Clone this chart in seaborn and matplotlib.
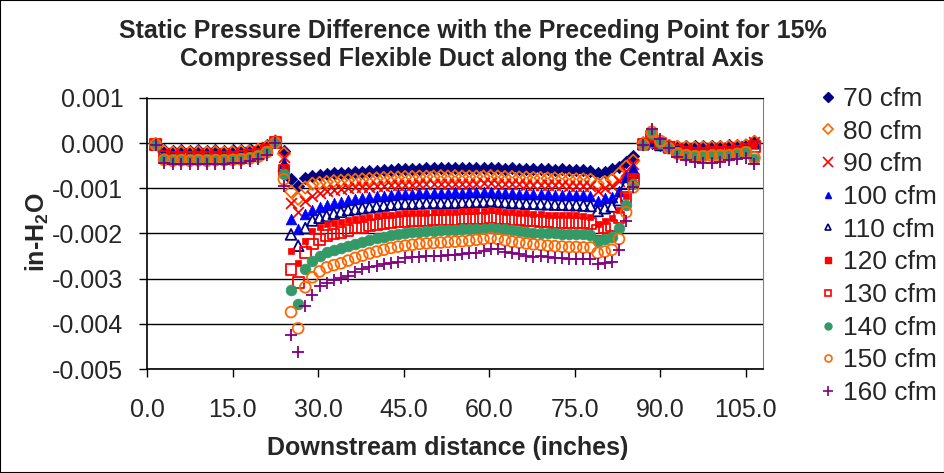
import matplotlib
matplotlib.use("Agg")
import matplotlib.pyplot as plt
from matplotlib.lines import Line2D
from matplotlib.patches import Rectangle
from matplotlib.ticker import FuncFormatter
import pandas as pd
import seaborn as sns

# measurement positions (inches downstream)
x_left = [1.5, 3.0, 4.5, 6.0, 7.5, 9.0, 10.5, 12.0, 13.5, 15.0, 16.5, 18.0, 19.5, 21.0, 22.5]
x_mid = [24.0, 25.25, 26.5, 27.75, 29.0, 30.25, 31.5, 32.75, 34.0, 35.25,
         36.5, 37.75, 39.0, 40.25, 41.5, 42.75, 44.0, 45.25, 46.5, 47.75,
         49.0, 50.25, 51.5, 52.75, 54.0, 55.25, 56.5, 57.75, 59.0, 60.25,
         61.5, 62.75, 64.0, 65.25, 66.5, 67.75, 69.0, 70.25, 71.5, 72.75,
         74.0, 75.25, 76.5, 77.75, 79.0, 80.25, 81.5, 82.75, 84.0, 85.25]
x_right = [87.0, 88.5, 90.0, 91.5, 93.0, 94.5, 96.0, 97.5, 99.0, 100.5, 102.0, 103.5, 105.0, 106.5]

flows = ["70 cfm", "80 cfm", "90 cfm", "100 cfm", "110 cfm",
         "120 cfm", "130 cfm", "140 cfm", "150 cfm", "160 cfm"]

# static pressure difference (in-H2O)
dp_70 = [-0.00002, -0.00015, -0.00017, -0.00016, -0.00017, -0.00016, -0.00017, -0.00016, -0.00017, -0.00016, -0.00015, -0.00014, -0.00012, -0.00005, 0.00004,
         -0.00017, -0.0008, -0.00094, -0.00077, -0.00073, -0.0007, -0.00068, -0.00067, -0.00066, -0.00065,
         -0.00064, -0.00063, -0.00062, -0.00061, -0.0006, -0.00059, -0.00058, -0.00058, -0.00057, -0.00057,
         -0.00056, -0.00056, -0.00056, -0.00055, -0.00056, -0.00055, -0.00055, -0.00056, -0.00055, -0.00055,
         -0.00056, -0.00057, -0.00056, -0.00057, -0.00058, -0.00057, -0.00058, -0.00058, -0.00059, -0.00058,
         -0.00059, -0.00059, -0.0006, -0.00061, -0.00065, -0.00063, -0.00058, -0.00053, -0.00042, -0.00028,
         0.0, 0.0, -0.00004, -0.00005, -0.00006, -0.00007, -0.00007, -0.00007, -0.00006, -0.00006, -0.00005, -0.00004, -0.00003, 0.00005]
dp_80 = [-0.00002, -0.00019, -0.00021, -0.0002, -0.00021, -0.0002, -0.00021, -0.0002, -0.00021, -0.0002, -0.00019, -0.00018, -0.00015, -0.00008, 0.00004,
         -0.00023, -0.00107, -0.00123, -0.00098, -0.0009, -0.00088, -0.00086, -0.00084, -0.00083, -0.00082,
         -0.00081, -0.0008, -0.00079, -0.00078, -0.00077, -0.00076, -0.00076, -0.00075, -0.00075, -0.00074,
         -0.00074, -0.00074, -0.00073, -0.00074, -0.00073, -0.00074, -0.00074, -0.00074, -0.00074, -0.00073,
         -0.00074, -0.00075, -0.00075, -0.00076, -0.00076, -0.00077, -0.00077, -0.00078, -0.00078, -0.00079,
         -0.00079, -0.0008, -0.0008, -0.00081, -0.0009, -0.00086, -0.00081, -0.00068, -0.00052, -0.00039,
         0.0, 0.00003, -0.00003, -0.00006, -0.00008, -0.00009, -0.0001, -0.0001, -0.00009, -0.00009, -0.00008, -0.00007, -0.00005, 0.00003]
dp_90 = [-0.00002, -0.00021, -0.00023, -0.00022, -0.00023, -0.00022, -0.00023, -0.00022, -0.00023, -0.00022, -0.00021, -0.0002, -0.00017, -0.00009, 0.00003,
         -0.0003, -0.00132, -0.00153, -0.00127, -0.00116, -0.00111, -0.00106, -0.00103, -0.00101, -0.00099,
         -0.00098, -0.00097, -0.00096, -0.00095, -0.00094, -0.00093, -0.00093, -0.00092, -0.00092, -0.00091,
         -0.00091, -0.0009, -0.0009, -0.0009, -0.0009, -0.0009, -0.0009, -0.0009, -0.00089, -0.00089,
         -0.0009, -0.0009, -0.00091, -0.00091, -0.00092, -0.00092, -0.00092, -0.00093, -0.00093, -0.00093,
         -0.00094, -0.00094, -0.00094, -0.00095, -0.00105, -0.001, -0.00095, -0.00083, -0.00061, -0.00046,
         -0.00001, 0.00005, -0.00003, -0.00007, -0.0001, -0.00011, -0.00012, -0.00012, -0.00011, -0.00011, -0.0001, -0.00009, -0.00007, 0.00002]
dp_100 = [-0.00002, -0.00023, -0.00025, -0.00024, -0.00025, -0.00024, -0.00025, -0.00024, -0.00025, -0.00024, -0.00023, -0.00022, -0.00019, -0.00011, 0.00003,
          -0.00043, -0.00169, -0.00189, -0.00156, -0.00149, -0.00142, -0.00136, -0.00133, -0.0013, -0.00126,
          -0.00123, -0.00121, -0.0012, -0.00118, -0.00116, -0.00114, -0.00113, -0.00112, -0.00112, -0.00111,
          -0.00111, -0.0011, -0.0011, -0.0011, -0.00109, -0.0011, -0.00109, -0.00109, -0.00109, -0.00108,
          -0.0011, -0.00111, -0.00111, -0.00112, -0.00112, -0.00113, -0.00113, -0.00113, -0.00114, -0.00114,
          -0.00114, -0.00115, -0.00115, -0.00116, -0.00127, -0.00122, -0.00119, -0.00105, -0.00076, -0.00054,
          -0.00001, 0.00004, -0.00004, -0.00008, -0.00012, -0.00013, -0.00014, -0.00014, -0.00013, -0.00013, -0.00012, -0.0001, -0.00008, 0.00001]
dp_110 = [-0.00002, -0.00025, -0.00027, -0.00026, -0.00027, -0.00026, -0.00027, -0.00026, -0.00027, -0.00026, -0.00025, -0.00024, -0.0002, -0.00012, 0.00003,
          -0.0005, -0.00202, -0.00227, -0.00188, -0.00171, -0.00165, -0.00161, -0.00156, -0.00152, -0.00148,
          -0.00146, -0.00144, -0.00142, -0.0014, -0.00138, -0.00136, -0.00135, -0.00134, -0.00134, -0.00133,
          -0.00133, -0.00132, -0.00133, -0.00132, -0.00132, -0.00131, -0.00131, -0.0013, -0.0013, -0.00128,
          -0.0013, -0.00131, -0.00132, -0.00133, -0.00134, -0.00134, -0.00135, -0.00135, -0.00136, -0.00136,
          -0.00137, -0.00137, -0.00138, -0.00139, -0.0015, -0.00144, -0.0014, -0.00126, -0.0009, -0.00065,
          -0.00002, 0.00008, -0.00003, -0.00008, -0.00013, -0.00015, -0.00016, -0.00016, -0.00015, -0.00015, -0.00014, -0.00012, -0.0001, 0.0]
dp_120 = [-0.00003, -0.00028, -0.0003, -0.00029, -0.0003, -0.00029, -0.0003, -0.00029, -0.0003, -0.00029, -0.00028, -0.00026, -0.00022, -0.00013, 0.00002,
          -0.00057, -0.00238, -0.00265, -0.00216, -0.00195, -0.00185, -0.0018, -0.00177, -0.00174, -0.0017,
          -0.00167, -0.00165, -0.00163, -0.00161, -0.00159, -0.00158, -0.00157, -0.00155, -0.00155, -0.00154,
          -0.00154, -0.00153, -0.00153, -0.00152, -0.00152, -0.00151, -0.00151, -0.00151, -0.0015, -0.00148,
          -0.0015, -0.00152, -0.00153, -0.00154, -0.00155, -0.00156, -0.00157, -0.00158, -0.00158, -0.00159,
          -0.0016, -0.0016, -0.00161, -0.00163, -0.0018, -0.00172, -0.00165, -0.00148, -0.00116, -0.00076,
          -0.00002, 0.00012, -0.00002, -0.00009, -0.00015, -0.00018, -0.00019, -0.00019, -0.00018, -0.00018, -0.00017, -0.00015, -0.00012, -0.00005]
dp_130 = [-0.00003, -0.0003, -0.00032, -0.00031, -0.00032, -0.00031, -0.00032, -0.00031, -0.00032, -0.00031, -0.0003, -0.00028, -0.00024, -0.00015, 0.00002,
          -0.0006, -0.0028, -0.00308, -0.00242, -0.00223, -0.00214, -0.00205, -0.00201, -0.00197, -0.00194,
          -0.00188, -0.00186, -0.00183, -0.0018, -0.00178, -0.00176, -0.00174, -0.00173, -0.00172, -0.00171,
          -0.00171, -0.0017, -0.0017, -0.00169, -0.00169, -0.00168, -0.00168, -0.00167, -0.00166, -0.00165,
          -0.00166, -0.00168, -0.00169, -0.0017, -0.00171, -0.00172, -0.00173, -0.00174, -0.00175, -0.00176,
          -0.00176, -0.00177, -0.00177, -0.00178, -0.00194, -0.00188, -0.00182, -0.00165, -0.0012, -0.00081,
          -0.00002, 0.00015, -0.00001, -0.0001, -0.00017, -0.0002, -0.00022, -0.00022, -0.00021, -0.00021, -0.0002, -0.00018, -0.00014, -0.00008]
dp_140 = [-0.00003, -0.00034, -0.00036, -0.00035, -0.00036, -0.00035, -0.00036, -0.00035, -0.00035, -0.00034, -0.00033, -0.00031, -0.00027, -0.00017, 0.00002,
          -0.00068, -0.00325, -0.00356, -0.00279, -0.0026, -0.00249, -0.00241, -0.00236, -0.00232, -0.00228,
          -0.00223, -0.00218, -0.00214, -0.0021, -0.00207, -0.00204, -0.00201, -0.00199, -0.00197, -0.00196,
          -0.00195, -0.00194, -0.00193, -0.00192, -0.00192, -0.00191, -0.0019, -0.0019, -0.00189, -0.00187,
          -0.00189, -0.00191, -0.00193, -0.00195, -0.00197, -0.00198, -0.00199, -0.002, -0.002, -0.00201,
          -0.00201, -0.00202, -0.00202, -0.00203, -0.00217, -0.00213, -0.00208, -0.00188, -0.00136, -0.0009,
          -0.00003, 0.0002, 0.0, -0.0001, -0.0002, -0.00024, -0.00026, -0.00026, -0.00025, -0.00025, -0.00024, -0.00021, -0.00017, -0.00034]
dp_150 = [-0.00003, -0.00037, -0.00039, -0.00038, -0.00039, -0.00038, -0.00039, -0.00038, -0.00038, -0.00037, -0.00036, -0.00034, -0.0003, -0.0002, 0.00001,
          -0.0008, -0.00374, -0.0041, -0.00319, -0.00297, -0.00284, -0.00275, -0.0027, -0.00266, -0.0026,
          -0.00254, -0.00249, -0.00244, -0.0024, -0.00236, -0.00232, -0.00229, -0.00227, -0.00225, -0.00223,
          -0.00222, -0.00221, -0.0022, -0.00219, -0.00218, -0.00217, -0.00216, -0.00214, -0.00212, -0.0021,
          -0.00212, -0.00215, -0.00218, -0.0022, -0.00222, -0.00224, -0.00225, -0.00227, -0.00228, -0.00229,
          -0.0023, -0.0023, -0.00231, -0.00231, -0.00243, -0.0024, -0.00236, -0.00212, -0.00153, -0.00098,
          -0.00003, 0.00025, 0.00005, -0.00011, -0.00023, -0.00027, -0.00029, -0.00029, -0.00028, -0.00028, -0.00027, -0.00024, -0.0002, -0.00032]
dp_160 = [-0.00004, -0.00045, -0.00047, -0.00046, -0.00047, -0.00046, -0.00047, -0.00046, -0.00046, -0.00045, -0.00043, -0.0004, -0.00036, -0.00026, 0.0,
          -0.00094, -0.00424, -0.00462, -0.0036, -0.00336, -0.00317, -0.00309, -0.00303, -0.00299, -0.00294,
          -0.00286, -0.00279, -0.00275, -0.00271, -0.00268, -0.00266, -0.00263, -0.00254, -0.00252, -0.00252,
          -0.0025, -0.0025, -0.00249, -0.00248, -0.00247, -0.00245, -0.00244, -0.00243, -0.00238, -0.00234,
          -0.00235, -0.00241, -0.00243, -0.00246, -0.00249, -0.00251, -0.0025, -0.00253, -0.00254, -0.00255,
          -0.00256, -0.00256, -0.00256, -0.00256, -0.00267, -0.00265, -0.00262, -0.00236, -0.00173, -0.00096,
          -0.00004, 0.00032, 0.0001, -0.0001, -0.0003, -0.00038, -0.00042, -0.00043, -0.00043, -0.00042, -0.00038, -0.00035, -0.00033, -0.00046]

# marker styles, Excel-like
colors = ["#000080", "#FF6600", "#FF0000", "#0000FF", "#000080",
          "#FF0000", "#FF0000", "#339966", "#FF6600", "#800080"]
markers = ["D", "D", "x", "^", "^", "s", "s", "o", "o", "+"]
filled = [True, False, None, True, False, True, False, True, False, None]
sizes = [40, 40, 60, 60, 60, 22, 60, 60, 60, 80]

distance = x_left + x_mid + x_right
series = [dp_70, dp_80, dp_90, dp_100, dp_110, dp_120, dp_130, dp_140, dp_150, dp_160]
df = pd.concat([pd.DataFrame({"distance": distance, "dp": vals, "flow": name})
                for name, vals in zip(flows, series)], ignore_index=True)

sns.set_style("white")
plt.rcParams["font.family"] = ["Liberation Sans", "DejaVu Sans"]
plt.rcParams["mathtext.fontset"] = "custom"
plt.rcParams["mathtext.rm"] = "Liberation Sans"
plt.rcParams["mathtext.bf"] = "Liberation Sans:bold"

fig = plt.figure(figsize=(9.45, 4.73), dpi=100)
ax = fig.add_axes([147 / 945, 1 - 369 / 473, (763 - 147) / 945, (369 - 98) / 473])

for i, name in enumerate(flows):
    sub = df[df["flow"] == name]
    kw = dict(marker=markers[i], s=sizes[i], legend=False, ax=ax, zorder=3 + i)
    if filled[i] is None:
        kw.update(color=colors[i], linewidth=1.3)
    elif filled[i]:
        kw.update(color=colors[i], edgecolor=colors[i], linewidth=0.5)
    else:
        kw.update(color=colors[i], facecolor="none", edgecolor=colors[i], linewidth=1.3)
    sns.scatterplot(data=sub, x="distance", y="dp", **kw)

ax.set_xlim(0, 108)
ax.set_ylim(-0.005, 0.001)
ax.set_xticks([0, 15, 30, 45, 60, 75, 90, 105])
ax.set_yticks([0.001, 0.0, -0.001, -0.002, -0.003, -0.004, -0.005])
ax.xaxis.set_major_formatter(FuncFormatter(lambda v, p: f"{v:.1f}"))
ax.yaxis.set_major_formatter(FuncFormatter(lambda v, p: f"{v:.3f}".replace("-0.000", "0.000")))
ax.yaxis.grid(True, color="black", linewidth=1)
ax.set_axisbelow(True)
ax.tick_params(axis="both", direction="out", length=6, width=1, color="black",
               labelsize=18, left=True, bottom=True)
ax.tick_params(axis="x", pad=15)
ax.tick_params(axis="y", pad=11)
for side in ["left", "bottom"]:
    ax.spines[side].set_color("black")
    ax.spines[side].set_linewidth(1.2)
ax.spines["top"].set_color("black")
ax.spines["right"].set_color("#808080")

ax.set_xlabel("Downstream distance (inches)", fontsize=18, fontweight="bold", va="center")
ax.xaxis.set_label_coords((448 - 147) / 616, -(448 - 369) / 271)
ax.set_ylabel(r"in-H$_\mathbf{2}$O", fontsize=18, fontweight="bold", va="center")
ax.yaxis.set_label_coords((37 - 147) / 616, (369 - 232) / 271)
fig.text(0.5, 0.96, "Static Pressure Difference with the Preceding Point for 15%\n"
         "Compressed Flexible Duct along the Central Axis",
         ha="center", va="top", fontsize=18, fontweight="bold", linespacing=1.2)

handles = []
for i, name in enumerate(flows):
    if filled[i] is None:
        h = Line2D([], [], linestyle="", marker=markers[i], color=colors[i], markersize=7, markeredgewidth=1.2)
    elif filled[i]:
        h = Line2D([], [], linestyle="", marker=markers[i], color=colors[i], markersize=5 if markers[i] != "s" else 4)
    else:
        h = Line2D([], [], linestyle="", marker=markers[i], markerfacecolor="none",
                   markeredgecolor=colors[i], markersize=5, markeredgewidth=1.2)
    handles.append(h)
fig.legend(handles, flows, loc="center left", bbox_to_anchor=(807 / 945, 1 - 246 / 473),
           frameon=False, fontsize=19, borderpad=0, handlelength=0.6, handletextpad=0.27,
           labelspacing=0.33)

fig.patches.append(Rectangle((0, 0), 1, 1, transform=fig.transFigure, fill=False,
                             edgecolor="black", linewidth=1.5))

fig.savefig("out.png", dpi=100)
